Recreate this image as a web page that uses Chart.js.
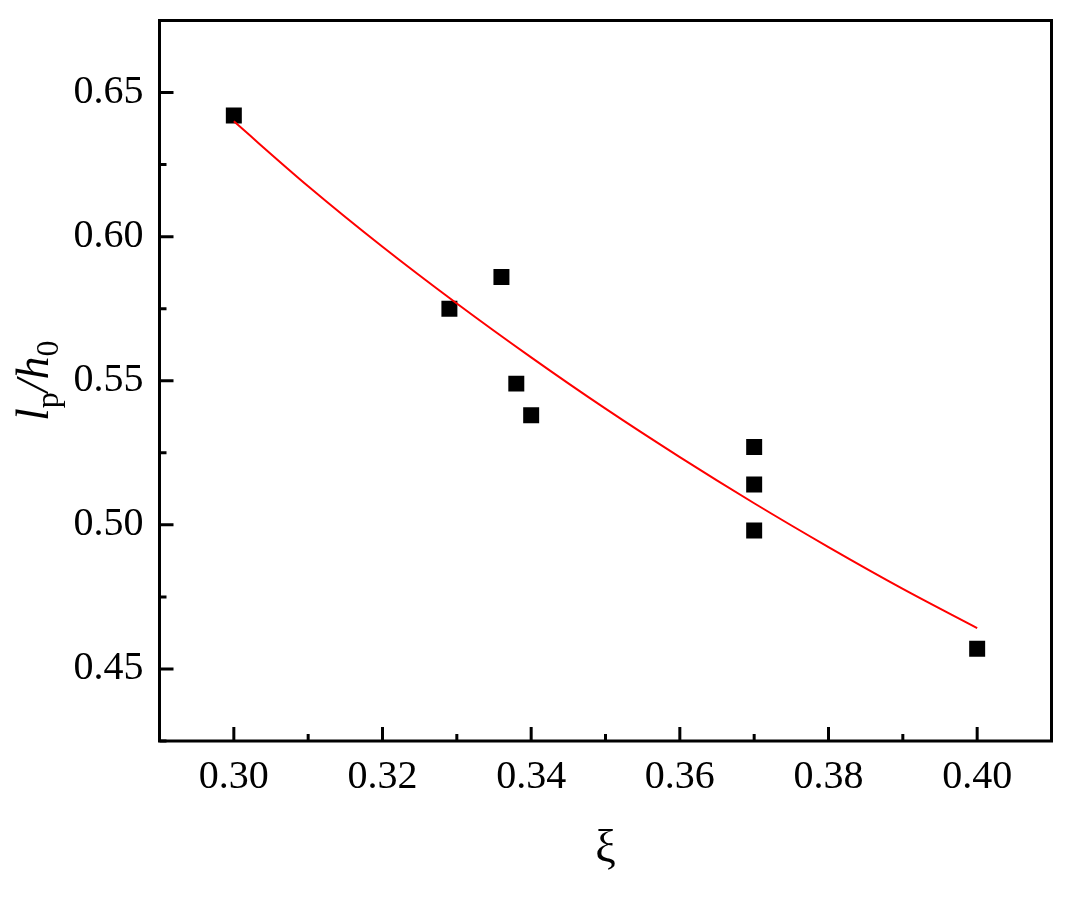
<!DOCTYPE html>
<html>
<head>
<meta charset="utf-8">
<title>lp/h0 vs ξ</title>
<script src="https://cdn.jsdelivr.net/npm/chart.js@4.4.1/dist/chart.umd.min.js"></script>
<style>
    html, body { margin: 0; padding: 0; background: #ffffff; }
    #wrap { width: 1069px; height: 898px; }
</style>
</head>
<body>
<div id="wrap"><canvas id="chart" width="1069" height="898"></canvas></div>
<script>
// Measured points (xi, lp/h0)
const xiValues = [0.300, 0.329, 0.336, 0.338, 0.340, 0.370, 0.370, 0.370, 0.400];
const lpValues = [0.642, 0.575, 0.586, 0.549, 0.538, 0.527, 0.514, 0.498, 0.457];

// Fitted curve
const fitXi = [0.30, 0.31, 0.32, 0.33, 0.34, 0.35, 0.36, 0.37, 0.38, 0.39, 0.40];
const fitLp = [0.640, 0.6175, 0.5965, 0.5768, 0.5581, 0.5403, 0.5235, 0.5075, 0.4923, 0.4778, 0.4642];

// Axis ranges / ticks
const xRange = [0.29, 0.41];
const xStep = 0.01;
const yRange = [0.425, 0.675];
const yStep = 0.025;

const serif = "'Liberation Serif', 'Times New Roman', serif";

// inward ticks + closed frame
const frameAndTicks = {
    id: 'frameAndTicks',
    afterDatasetsDraw(chart) {
        const ctx = chart.ctx;
        const a = chart.chartArea;
        const xs = chart.scales.x;
        const ys = chart.scales.y;
        ctx.save();
        ctx.strokeStyle = '#000';
        ctx.lineWidth = 3;
        ctx.lineCap = 'butt';
        ctx.beginPath();
        xs.ticks.forEach(t => {
            const major = Math.round(t.value * 100) % 2 === 0;
            const px = xs.getPixelForValue(t.value);
            ctx.moveTo(px, a.bottom);
            ctx.lineTo(px, a.bottom - (major ? 14 : 7));
        });
        ys.ticks.forEach(t => {
            const major = Math.round(t.value * 1000) % 50 === 0;
            const py = ys.getPixelForValue(t.value);
            ctx.moveTo(a.left, py);
            ctx.lineTo(a.left + (major ? 14 : 7), py);
        });
        ctx.stroke();
        ctx.lineJoin = 'miter';
        ctx.strokeRect(a.left, a.top, a.right - a.left, a.bottom - a.top);
        ctx.restore();
    }
};

// axis titles with sub scripts
const axisTitles = {
    id: 'axisTitles',
    afterDraw(chart) {
        const ctx = chart.ctx;
        const a = chart.chartArea;
        ctx.save();
        ctx.fillStyle = '#000';
        ctx.textBaseline = 'alphabetic';

        // x title
        ctx.font = '46px ' + serif;
        ctx.textAlign = 'center';
        ctx.fillText('ξ', (a.left + a.right) / 2, 862);

        // y title: l_p / h_0, rotated
        const parts = [
            { t: 'l', f: 'italic 46px ' + serif, dy: 0 },
            { t: 'p', f: '32px ' + serif, dy: 10 },
            { t: '/', f: 'italic 46px ' + serif, dy: 0 },
            { t: 'h', f: 'italic 46px ' + serif, dy: 0 },
            { t: '0', f: '32px ' + serif, dy: 10 }
        ];
        ctx.textAlign = 'left';
        let total = 0;
        parts.forEach(p => { ctx.font = p.f; p.w = ctx.measureText(p.t).width; total += p.w; });
        ctx.translate(48, (a.top + a.bottom) / 2);
        ctx.rotate(-Math.PI / 2);
        let cx = -total / 2;
        parts.forEach(p => {
            ctx.font = p.f;
            ctx.fillText(p.t, cx, p.dy);
            cx += p.w;
        });
        ctx.restore();
    }
};

const ctx = document.getElementById('chart');

new Chart(ctx, {
    data: {
        datasets: [
            {
                type: 'line',
                label: 'fit',
                data: fitXi.map((x, i) => ({ x: x, y: fitLp[i] })),
                borderColor: '#ff0000',
                borderWidth: 2,
                pointRadius: 0,
                cubicInterpolationMode: 'monotone',
                fill: false
            },
            {
                type: 'scatter',
                label: 'data',
                data: xiValues.map((x, i) => ({ x: x, y: lpValues[i] })),
                pointStyle: 'rect',
                pointRadius: 11.3,
                pointBorderWidth: 0,
                backgroundColor: '#000000',
                borderColor: '#000000'
            }
        ]
    },
    options: {
        responsive: false,
        animation: false,
        layout: { padding: { top: 20.5, right: 17.5, left: 0, bottom: 0 } },
        plugins: {
            legend: { display: false },
            tooltip: { enabled: false }
        },
        scales: {
            x: {
                type: 'linear',
                min: xRange[0],
                max: xRange[1],
                border: { display: false },
                grid: { display: false, drawTicks: false },
                afterFit(scale) {
                    scale.height = 898 - 741;
                    scale.paddingLeft = 0;
                    scale.paddingRight = 0;
                },
                ticks: {
                    stepSize: xStep,
                    autoSkip: false,
                    maxRotation: 0,
                    padding: 12,
                    color: '#000',
                    font: { family: serif, size: 40 },
                    callback: v => (Math.round(v * 100) % 2 === 0 ? v.toFixed(2) : '')
                }
            },
            y: {
                type: 'linear',
                min: yRange[0],
                max: yRange[1],
                border: { display: false },
                grid: { display: false, drawTicks: false },
                afterFit(scale) {
                    scale.width = 159.5;
                    scale.paddingTop = 0;
                    scale.paddingBottom = 0;
                },
                ticks: {
                    stepSize: yStep,
                    autoSkip: false,
                    padding: 16,
                    color: '#000',
                    font: { family: serif, size: 40 },
                    callback: v => (Math.round(v * 1000) % 50 === 0 ? v.toFixed(2) : '')
                }
            }
        }
    },
    plugins: [frameAndTicks, axisTitles]
});
</script>
</body>
</html>
